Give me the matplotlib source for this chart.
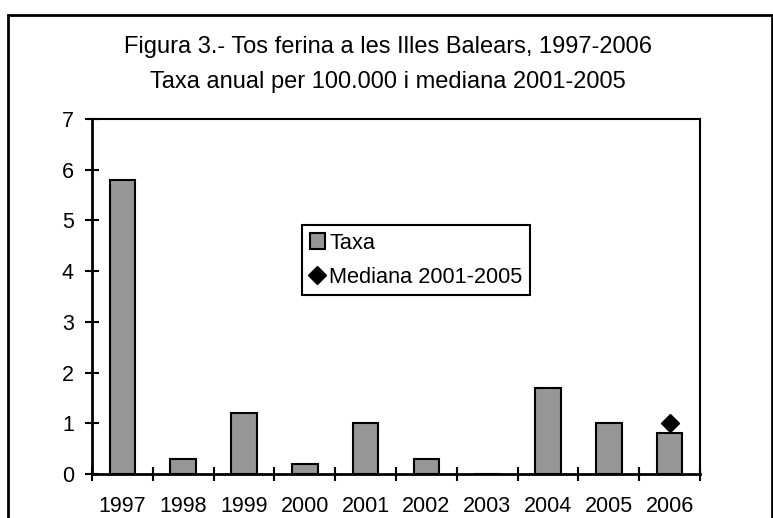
import matplotlib
matplotlib.use("Agg")
import matplotlib.pyplot as plt
from matplotlib.patches import Patch, Rectangle
from matplotlib.lines import Line2D

plt.rcParams['font.family'] = ['Liberation Sans', 'DejaVu Sans']

years = ['1997', '1998', '1999', '2000', '2001', '2002', '2003', '2004', '2005', '2006']
taxa = [5.8, 0.3, 1.2, 0.2, 1.0, 0.3, 0.0, 1.7, 1.0, 0.8]
mediana_year = '2006'
mediana_value = 1.0
title1 = "Figura 3.- Tos ferina a les Illes Balears, 1997-2006"
title2 = "Taxa anual per 100.000 i mediana 2001-2005"

fig = plt.figure(figsize=(7.73, 5.18), dpi=100)
W, H = 773, 518
ax = fig.add_axes([92/W, 1-474/H, (700-92)/W, (474-119)/H])

x = list(range(len(years)))
ax.bar(x, taxa, width=0.42, color='#969696', edgecolor='black', linewidth=1.5, zorder=3)
mx = years.index(mediana_year)
ax.plot([mx], [mediana_value], marker='D', color='black', markersize=9.5, linestyle='none', zorder=4)

ax.set_xlim(-0.5, len(years)-0.5)
ax.set_ylim(0, 7)
ax.set_yticks(range(0, 8))
ax.set_xticks(x)
ax.set_xticklabels(years)
ax.set_xticks([i+0.5 for i in range(-1, len(years))], minor=True)
ax.tick_params(axis='x', which='major', length=0, pad=16, labelsize=15.5)
ax.tick_params(axis='x', which='minor', direction='inout', length=10, width=1.5)
ax.tick_params(axis='y', direction='inout', length=10, width=1.5, pad=8, labelsize=15.5)
for s in ax.spines.values():
    s.set_linewidth(1.5)
ax.spines['left'].set_linewidth(2)
ax.spines['bottom'].set_linewidth(2)

handles = [Patch(facecolor='#969696', edgecolor='black', linewidth=1.5),
           Line2D([], [], marker='D', color='black', linestyle='none', markersize=9)]
leg = ax.legend(handles, ['Taxa', 'Mediana 2001-2005'], loc='upper left',
                bbox_to_anchor=((302-92)/608, (474-225)/355), borderaxespad=0,
                fancybox=False, edgecolor='black', framealpha=1, fontsize=15.7,
                handlelength=0.7, handletextpad=0.2, borderpad=0.35, labelspacing=0.6)
leg.get_frame().set_linewidth(1.5)

fig.text(388/W, 1-47/H, title1, ha='center', va='center', fontsize=17)
fig.text(388/W, 1-82/H, title2, ha='center', va='center', fontsize=17)

fig.patches.append(Rectangle((8/W, -0.1), (772-8)/W, 1-15/H+0.1, transform=fig.transFigure,
                             fill=False, edgecolor='black', linewidth=2))

fig.savefig('out.png', dpi=100)
